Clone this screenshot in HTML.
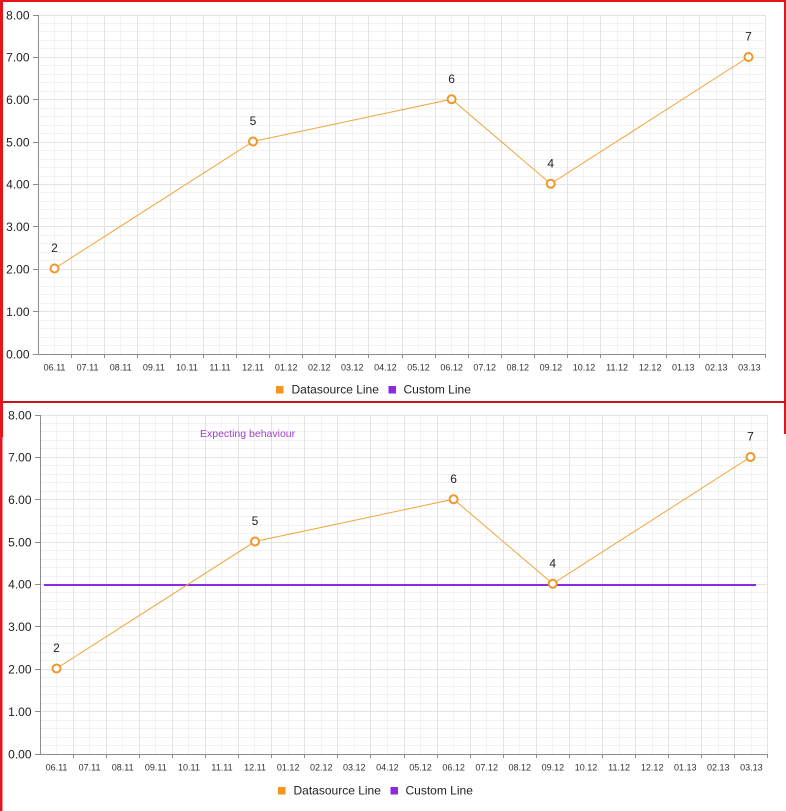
<!DOCTYPE html>
<html><head><meta charset="utf-8"><style>
html,body{margin:0;padding:0;background:#fff;}
svg{display:block;font-family:"Liberation Sans",Arial,sans-serif;}
</style></head><body>
<svg width="786" height="811" viewBox="0 0 786 811" xmlns="http://www.w3.org/2000/svg">
<defs>
<g id="grid">
<path fill="none" stroke="#f2f2f2" stroke-width="1" d="M54.5 15V354M87.5 15V354M120.5 15V354M153.5 15V354M186.5 15V354M219.5 15V354M252.5 15V354M286.5 15V354M319.5 15V354M352.5 15V354M385.5 15V354M418.5 15V354M451.5 15V354M484.5 15V354M517.5 15V354M550.5 15V354M583.5 15V354M617.5 15V354M650.5 15V354M683.5 15V354M716.5 15V354M749.5 15V354
M38 23.5H765M38 31.5H765M38 40.5H765M38 48.5H765M38 65.5H765M38 74.5H765M38 82.5H765M38 91.5H765M38 108.5H765M38 116.5H765M38 125.5H765M38 133.5H765M38 150.5H765M38 159.5H765M38 167.5H765M38 176.5H765M38 192.5H765M38 201.5H765M38 209.5H765M38 218.5H765M38 235.5H765M38 243.5H765M38 252.5H765M38 260.5H765M38 277.5H765M38 286.5H765M38 294.5H765M38 303.5H765M38 320.5H765M38 328.5H765M38 337.5H765M38 345.5H765"/>
<path fill="none" stroke="#e3e3e3" stroke-width="1" d="M71.5 15V354M104.5 15V354M137.5 15V354M170.5 15V354M203.5 15V354M236.5 15V354M269.5 15V354M302.5 15V354M335.5 15V354M368.5 15V354M402.5 15V354M435.5 15V354M468.5 15V354M501.5 15V354M534.5 15V354M567.5 15V354M600.5 15V354M633.5 15V354M666.5 15V354M699.5 15V354M732.5 15V354M765.5 15V354
M38 15.5H765M38 57.5H765M38 99.5H765M38 142.5H765M38 184.5H765M38 226.5H765M38 269.5H765M38 311.5H765"/>
<path fill="none" stroke="#8c8c8c" stroke-width="1" d="M38.5 15V354.5H765.5
M33 15.5H38M33 57.5H38M33 99.5H38M33 142.5H38M33 184.5H38M33 226.5H38M33 269.5H38M33 311.5H38M33 354.5H38
M71.5 354V358M104.5 354V358M137.5 354V358M170.5 354V358M203.5 354V358M236.5 354V358M269.5 354V358M302.5 354V358M335.5 354V358M368.5 354V358M402.5 354V358M435.5 354V358M468.5 354V358M501.5 354V358M534.5 354V358M567.5 354V358M600.5 354V358M633.5 354V358M666.5 354V358M699.5 354V358M732.5 354V358M765.5 354V358"/>
</g>
</defs>

<!-- TOP CHART -->
<use href="#grid"/>
<g font-size="12" fill="#222" text-anchor="end">
<text x="29.5" y="19.5">8.00</text><text x="29.5" y="61.5">7.00</text><text x="29.5" y="104">6.00</text><text x="29.5" y="146.5">5.00</text><text x="29.5" y="188.5">4.00</text><text x="29.5" y="231">3.00</text><text x="29.5" y="273.5">2.00</text><text x="29.5" y="316">1.00</text><text x="29.5" y="358.5">0.00</text>
</g>
<g font-size="9" fill="#333" text-anchor="middle">
<text x="54.5" y="370.5">06.11</text><text x="87.6" y="370.5">07.11</text><text x="120.7" y="370.5">08.11</text><text x="153.8" y="370.5">09.11</text><text x="186.9" y="370.5">10.11</text><text x="220" y="370.5">11.11</text><text x="253.1" y="370.5">12.11</text><text x="286.2" y="370.5">01.12</text><text x="319.3" y="370.5">02.12</text><text x="352.3" y="370.5">03.12</text><text x="385.4" y="370.5">04.12</text><text x="418.5" y="370.5">05.12</text><text x="451.6" y="370.5">06.12</text><text x="484.7" y="370.5">07.12</text><text x="517.8" y="370.5">08.12</text><text x="550.9" y="370.5">09.12</text><text x="584" y="370.5">10.12</text><text x="617.1" y="370.5">11.12</text><text x="650.2" y="370.5">12.12</text><text x="683.3" y="370.5">01.13</text><text x="716.3" y="370.5">02.13</text><text x="749.4" y="370.5">03.13</text>
</g>
<polyline fill="none" stroke="#f2a43a" stroke-width="1" points="54.5,268.5 253,141.5 451.6,99.2 550.7,183.8 748.5,57"/>
<g fill="#fff" stroke="#f0962a" stroke-width="2">
<circle cx="54.5" cy="268.5" r="4"/><circle cx="253" cy="141.5" r="4"/><circle cx="451.6" cy="99.2" r="4"/><circle cx="550.7" cy="183.8" r="4"/><circle cx="748.5" cy="57" r="4"/>
</g>
<g font-size="12" fill="#222" text-anchor="middle">
<text x="54.5" y="252">2</text><text x="253" y="125">5</text><text x="451.6" y="83">6</text><text x="550.7" y="167.5">4</text><text x="748.5" y="40.5">7</text>
</g>
<rect x="276" y="386" width="7.5" height="7.5" fill="#f7941d"/>
<text x="291.5" y="393.5" font-size="12" fill="#222">Datasource Line</text>
<rect x="388.5" y="386" width="7.5" height="7.5" fill="#8a2be2"/>
<text x="403.5" y="393.5" font-size="12" fill="#222">Custom Line</text>

<!-- BOTTOM CHART -->
<use href="#grid" transform="translate(2,400)"/>
<g font-size="12" fill="#222" text-anchor="end">
<text x="31.5" y="419.5">8.00</text><text x="31.5" y="461.5">7.00</text><text x="31.5" y="504">6.00</text><text x="31.5" y="546.5">5.00</text><text x="31.5" y="588.5">4.00</text><text x="31.5" y="631">3.00</text><text x="31.5" y="673.5">2.00</text><text x="31.5" y="716">1.00</text><text x="31.5" y="758.5">0.00</text>
</g>
<g font-size="9" fill="#333" text-anchor="middle">
<text x="56.5" y="770.5">06.11</text><text x="89.6" y="770.5">07.11</text><text x="122.7" y="770.5">08.11</text><text x="155.8" y="770.5">09.11</text><text x="188.9" y="770.5">10.11</text><text x="222" y="770.5">11.11</text><text x="255.1" y="770.5">12.11</text><text x="288.2" y="770.5">01.12</text><text x="321.3" y="770.5">02.12</text><text x="354.3" y="770.5">03.12</text><text x="387.4" y="770.5">04.12</text><text x="420.5" y="770.5">05.12</text><text x="453.6" y="770.5">06.12</text><text x="486.7" y="770.5">07.12</text><text x="519.8" y="770.5">08.12</text><text x="552.9" y="770.5">09.12</text><text x="586" y="770.5">10.12</text><text x="619.1" y="770.5">11.12</text><text x="652.2" y="770.5">12.12</text><text x="685.3" y="770.5">01.13</text><text x="718.3" y="770.5">02.13</text><text x="751.4" y="770.5">03.13</text>
</g>
<line x1="44" y1="585" x2="756" y2="585" stroke="#8a2be2" stroke-width="2"/>
<polyline fill="none" stroke="#f2a43a" stroke-width="1" points="56.5,668.5 255,541.5 453.6,499.2 552.7,583.8 750.5,457"/>
<g fill="#fff" stroke="#f0962a" stroke-width="2">
<circle cx="56.5" cy="668.5" r="4"/><circle cx="255" cy="541.5" r="4"/><circle cx="453.6" cy="499.2" r="4"/><circle cx="552.7" cy="583.8" r="4"/><circle cx="750.5" cy="457" r="4"/>
</g>
<g font-size="12" fill="#222" text-anchor="middle">
<text x="56.5" y="652">2</text><text x="255" y="525">5</text><text x="453.6" y="483">6</text><text x="552.7" y="567.5">4</text><text x="750.5" y="440.5">7</text>
</g>
<text x="200" y="437" font-size="10.5" fill="#9b3fc8">Expecting behaviour</text>
<rect x="278" y="787" width="7.5" height="7.5" fill="#f7941d"/>
<text x="293.5" y="794.5" font-size="12" fill="#222">Datasource Line</text>
<rect x="390.5" y="787" width="7.5" height="7.5" fill="#8a2be2"/>
<text x="405.5" y="794.5" font-size="12" fill="#222">Custom Line</text>

<!-- RED BORDERS -->
<rect x="0" y="0" width="786" height="2" fill="#e8141c"/>
<rect x="784" y="0" width="2" height="434" fill="#e0141c"/>
<rect x="0" y="401" width="786" height="2" fill="#c4161c"/>
<rect x="0" y="0" width="3" height="437" fill="#e8141c"/>
<rect x="0" y="437" width="2.5" height="374" fill="#e8141c"/>
</svg>
</body></html>
